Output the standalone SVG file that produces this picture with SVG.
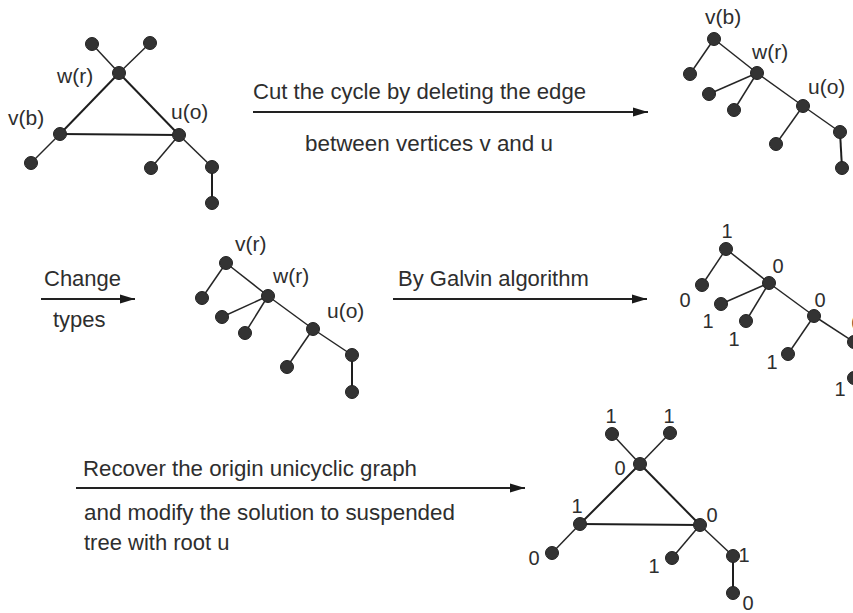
<svg xmlns="http://www.w3.org/2000/svg" width="853" height="613" viewBox="0 0 853 613">
<defs>
<style>
.e{stroke:#262626;stroke-width:1.5;fill:none}
.c{stroke:#1e1e1e;stroke-width:2;fill:none}
.a{stroke:#222;stroke-width:2;fill:none}
.n{fill:#333;stroke:#222;stroke-width:1}
.t{font-family:"Liberation Sans",Arial,sans-serif;font-size:22px;fill:#2e2e2e}
.l{font-family:"Liberation Sans",Arial,sans-serif;font-size:21px;fill:#2e2e2e}
.d{font-family:"Liberation Sans",Arial,sans-serif;font-size:20px;fill:#2e2e2e;text-anchor:middle}
</style>
<marker id="ah" markerUnits="userSpaceOnUse" markerWidth="16" markerHeight="10" refX="15" refY="5" orient="auto">
<path d="M0,0.5 L15,5 L0,9.5 Z" fill="#1a1a1a"/>
</marker>
</defs>

<g id="connectors">
<!-- graph 1 -->
<line class="e" x1="119" y1="73" x2="92" y2="44"/>
<line class="e" x1="119" y1="73" x2="150" y2="43"/>
<line class="c" x1="119" y1="73" x2="60" y2="134"/>
<line class="c" x1="119" y1="73" x2="179" y2="135"/>
<line class="c" x1="60" y1="134" x2="179" y2="135"/>
<line class="e" x1="60" y1="134" x2="31" y2="163"/>
<line class="e" x1="179" y1="135" x2="151" y2="168"/>
<line class="e" x1="179" y1="135" x2="212" y2="167"/>
<line class="c" x1="212" y1="167" x2="212" y2="203"/>
<!-- graph 2 -->
<line class="e" x1="714" y1="39" x2="690" y2="74"/>
<line class="e" x1="714" y1="39" x2="757" y2="73"/>
<line class="e" x1="757" y1="73" x2="709" y2="94"/>
<line class="e" x1="757" y1="73" x2="734" y2="110"/>
<line class="e" x1="757" y1="73" x2="803" y2="106"/>
<line class="e" x1="803" y1="106" x2="776" y2="144"/>
<line class="e" x1="803" y1="106" x2="840" y2="132"/>
<line class="c" x1="840" y1="132" x2="842" y2="168"/>
<!-- graph 3 -->
<line class="e" x1="226" y1="263" x2="202" y2="298"/>
<line class="e" x1="226" y1="263" x2="268" y2="296"/>
<line class="e" x1="268" y1="296" x2="222" y2="317"/>
<line class="e" x1="268" y1="296" x2="245" y2="333"/>
<line class="e" x1="268" y1="296" x2="313" y2="329"/>
<line class="e" x1="313" y1="329" x2="287" y2="367"/>
<line class="e" x1="313" y1="329" x2="352" y2="355"/>
<line class="c" x1="352" y1="355" x2="352" y2="392"/>
<!-- graph 4 -->
<line class="e" x1="726" y1="249" x2="702" y2="285"/>
<line class="e" x1="726" y1="249" x2="769" y2="283"/>
<line class="e" x1="769" y1="283" x2="721" y2="304"/>
<line class="e" x1="769" y1="283" x2="746" y2="321"/>
<line class="e" x1="769" y1="283" x2="814" y2="316"/>
<line class="e" x1="814" y1="316" x2="788" y2="354"/>
<line class="e" x1="814" y1="316" x2="854" y2="342"/>
<line class="c" x1="854" y1="342" x2="854" y2="378"/>
<!-- graph 5 -->
<line class="e" x1="640" y1="464" x2="612" y2="434"/>
<line class="e" x1="640" y1="464" x2="670" y2="433"/>
<line class="c" x1="640" y1="464" x2="580" y2="524"/>
<line class="c" x1="640" y1="464" x2="700" y2="525"/>
<line class="c" x1="580" y1="524" x2="700" y2="525"/>
<line class="e" x1="580" y1="524" x2="552" y2="553"/>
<line class="e" x1="700" y1="525" x2="672" y2="558"/>
<line class="e" x1="700" y1="525" x2="733" y2="556"/>
<line class="c" x1="733" y1="556" x2="733" y2="593"/>
<!-- process arrows -->
<line class="a" x1="253" y1="112" x2="648" y2="112" marker-end="url(#ah)"/>
<line class="a" x1="41" y1="299" x2="135" y2="299" marker-end="url(#ah)"/>
<line class="a" x1="393" y1="299" x2="647" y2="299" marker-end="url(#ah)"/>
<line class="a" x1="76" y1="488" x2="525" y2="488" marker-end="url(#ah)"/>
</g>

<g id="arrow-labels">
<text class="t" x="253" y="99" textLength="333" lengthAdjust="spacingAndGlyphs">Cut the cycle by deleting the edge</text>
<text class="t" x="305" y="151" textLength="248" lengthAdjust="spacingAndGlyphs">between vertices v and u</text>
<text class="t" x="44" y="286">Change</text>
<text class="t" x="53" y="327">types</text>
<text class="t" x="398" y="286">By Galvin algorithm</text>
<text class="t" x="83" y="476" textLength="334" lengthAdjust="spacingAndGlyphs">Recover the origin unicyclic graph</text>
<text class="t" x="84" y="520" textLength="371" lengthAdjust="spacingAndGlyphs">and modify the solution to suspended</text>
<text class="t" x="84" y="550">tree with root u</text>
</g>

<g id="graph1">
<circle class="n" cx="92" cy="44" r="6.5"/>
<circle class="n" cx="150" cy="43" r="6.5"/>
<circle class="n" cx="119" cy="73" r="6.5"/>
<circle class="n" cx="60" cy="134" r="6.5"/>
<circle class="n" cx="179" cy="135" r="6.5"/>
<circle class="n" cx="31" cy="163" r="6.5"/>
<circle class="n" cx="151" cy="168" r="6.5"/>
<circle class="n" cx="212" cy="167" r="6.5"/>
<circle class="n" cx="212" cy="203" r="6.5"/>
<text class="l" x="57" y="83">w(r)</text>
<text class="l" x="8" y="125">v(b)</text>
<text class="l" x="171" y="119">u(o)</text>
</g>

<g id="graph2">
<circle class="n" cx="714" cy="39" r="6.5"/>
<circle class="n" cx="690" cy="74" r="6.5"/>
<circle class="n" cx="757" cy="73" r="6.5"/>
<circle class="n" cx="709" cy="94" r="6.5"/>
<circle class="n" cx="734" cy="110" r="6.5"/>
<circle class="n" cx="803" cy="106" r="6.5"/>
<circle class="n" cx="776" cy="144" r="6.5"/>
<circle class="n" cx="840" cy="132" r="6.5"/>
<circle class="n" cx="842" cy="168" r="6.5"/>
<text class="l" x="705" y="24">v(b)</text>
<text class="l" x="752" y="59">w(r)</text>
<text class="l" x="808" y="94">u(o)</text>
</g>

<g id="graph3">
<circle class="n" cx="226" cy="263" r="6.5"/>
<circle class="n" cx="202" cy="298" r="6.5"/>
<circle class="n" cx="268" cy="296" r="6.5"/>
<circle class="n" cx="222" cy="317" r="6.5"/>
<circle class="n" cx="245" cy="333" r="6.5"/>
<circle class="n" cx="313" cy="329" r="6.5"/>
<circle class="n" cx="287" cy="367" r="6.5"/>
<circle class="n" cx="352" cy="355" r="6.5"/>
<circle class="n" cx="352" cy="392" r="6.5"/>
<text class="l" x="235" y="251">v(r)</text>
<text class="l" x="273" y="283">w(r)</text>
<text class="l" x="327" y="318">u(o)</text>
</g>

<g id="graph4">
<circle class="n" cx="726" cy="249" r="6.5"/>
<circle class="n" cx="702" cy="285" r="6.5"/>
<circle class="n" cx="769" cy="283" r="6.5"/>
<circle class="n" cx="721" cy="304" r="6.5"/>
<circle class="n" cx="746" cy="321" r="6.5"/>
<circle class="n" cx="814" cy="316" r="6.5"/>
<circle class="n" cx="788" cy="354" r="6.5"/>
<circle class="n" cx="854" cy="342" r="6.5"/>
<circle class="n" cx="854" cy="378" r="6.5"/>
<text class="d" x="727" y="238">1</text>
<text class="d" x="778" y="273">0</text>
<text class="d" x="685" y="307">0</text>
<text class="d" x="708" y="328">1</text>
<text class="d" x="734" y="346">1</text>
<text class="d" x="820" y="307">0</text>
<text class="d" x="857" y="330">0</text>
<text class="d" x="772" y="369">1</text>
<text class="d" x="840" y="396">1</text>
</g>

<g id="graph5">
<circle class="n" cx="612" cy="434" r="6.5"/>
<circle class="n" cx="670" cy="433" r="6.5"/>
<circle class="n" cx="640" cy="464" r="6.5"/>
<circle class="n" cx="580" cy="524" r="6.5"/>
<circle class="n" cx="700" cy="525" r="6.5"/>
<circle class="n" cx="552" cy="553" r="6.5"/>
<circle class="n" cx="672" cy="558" r="6.5"/>
<circle class="n" cx="733" cy="556" r="6.5"/>
<circle class="n" cx="733" cy="593" r="6.5"/>
<text class="d" x="611" y="423">1</text>
<text class="d" x="669" y="423">1</text>
<text class="d" x="620" y="475">0</text>
<text class="d" x="577" y="513">1</text>
<text class="d" x="712" y="522">0</text>
<text class="d" x="534" y="565">0</text>
<text class="d" x="654" y="573">1</text>
<text class="d" x="744" y="562">1</text>
<text class="d" x="748" y="610">0</text>
</g>
</svg>
